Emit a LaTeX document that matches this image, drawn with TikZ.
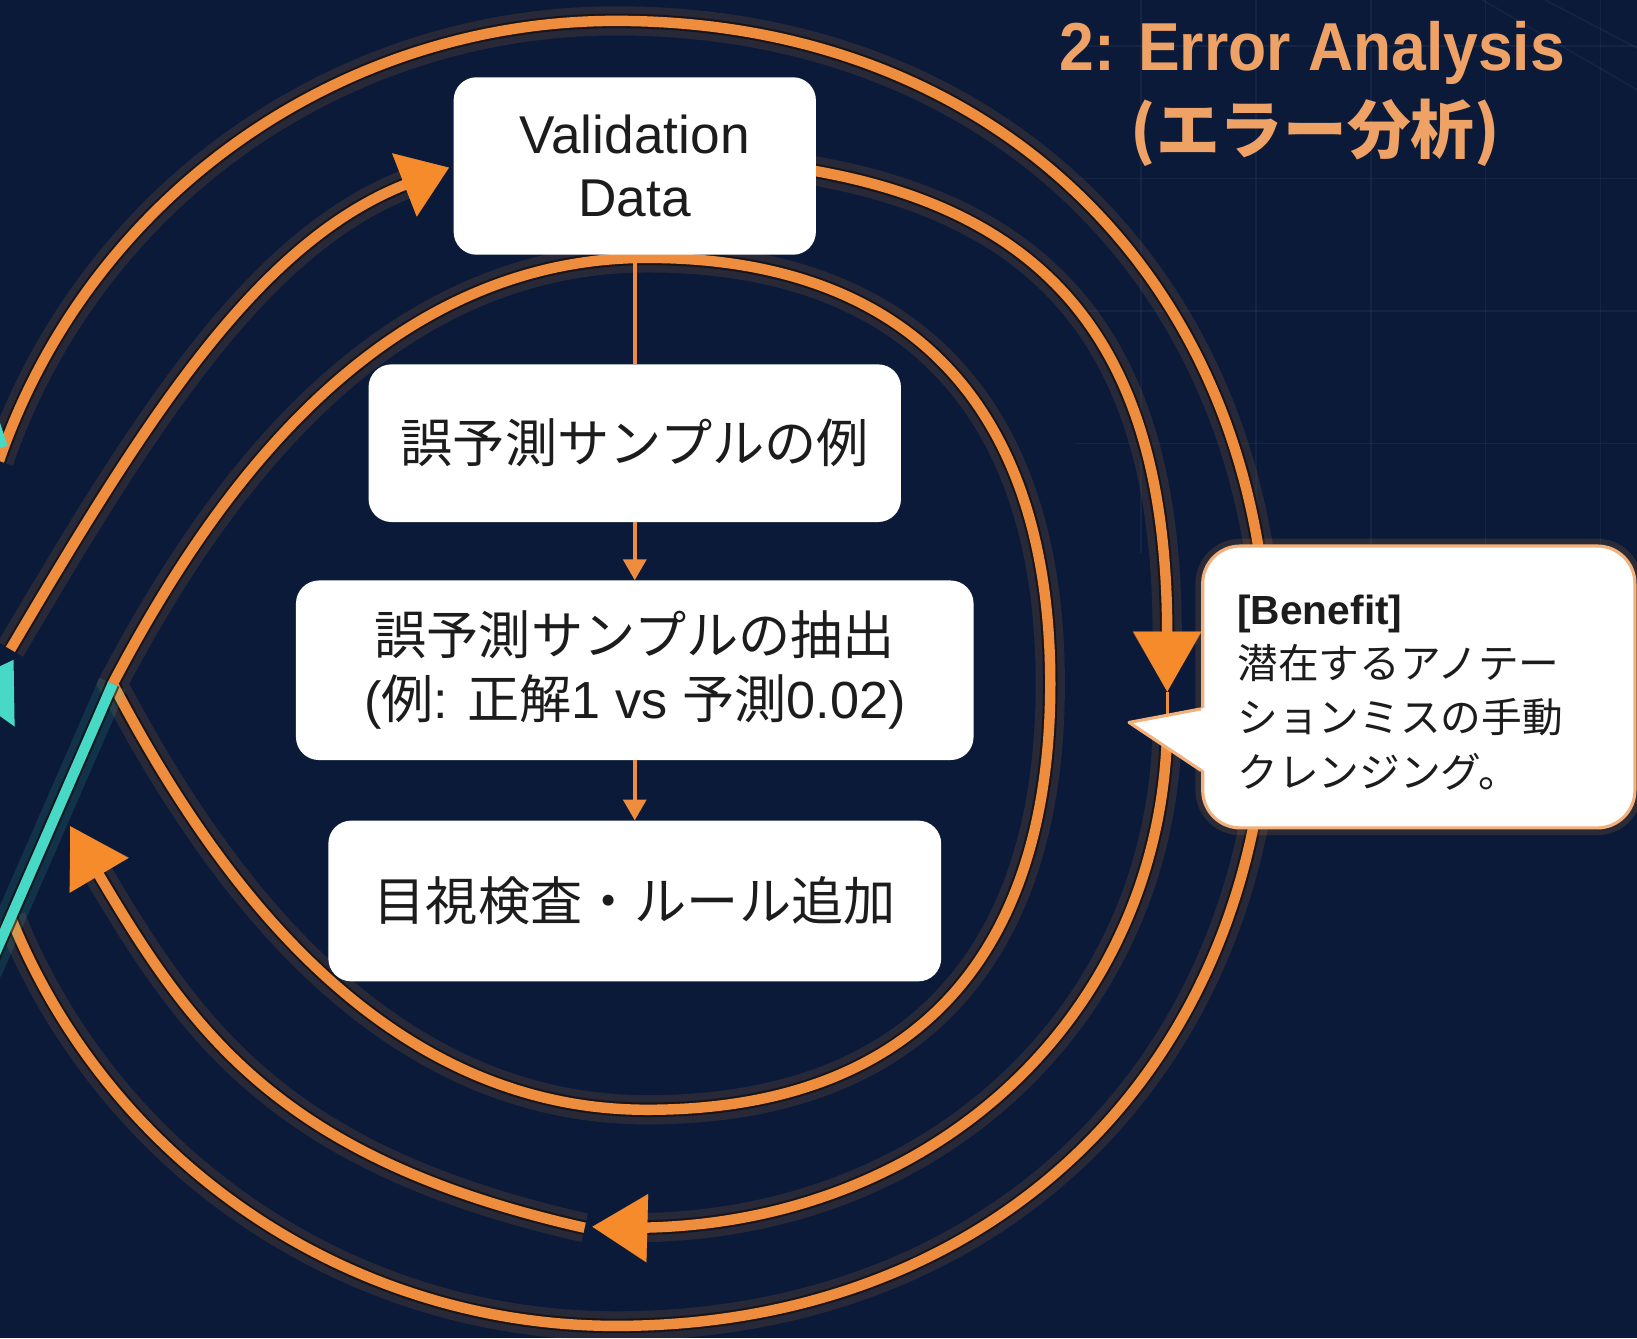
\documentclass[tikz,border=0pt]{standalone}
\usepackage{fontspec}
\setmainfont{Liberation Sans}
\newfontfamily\jp{Noto Sans CJK JP}
\usetikzlibrary{arrows.meta,calc}

\definecolor{bg}{HTML}{0A1A38}
\definecolor{loopor}{HTML}{EE8D3D}
\definecolor{tipor}{HTML}{F68B2C}
\definecolor{tealline}{HTML}{48D9C6}
\definecolor{titleor}{HTML}{EFA266}
\definecolor{ink}{HTML}{1C1C1C}
\definecolor{haloedge}{HTML}{100804}
\definecolor{gridc}{HTML}{6F8FC8}
\definecolor{coborder}{HTML}{F2B07A}

% a glowing stroke: wide faint halo, dark rim, then the line itself
\newcommand\glowline[3]{%
  \draw[draw=#1, line width=28pt, opacity=0.13, #2] #3;
  \draw[draw=haloedge, line width=14pt, opacity=0.6, #2] #3;
  \draw[draw=#1, line width=10pt, #2] #3;}

\tikzset{
  bigtip/.style={-{Triangle[length=#1pt, width=62pt, color=tipor]}},
  card/.style={fill=white, rounded corners=22pt, text=ink, align=center, inner sep=0pt},
  flow/.style={draw=loopor, line width=3.5pt},
  flowtip/.style={flow, -{Triangle[length=20pt, width=22pt]}},
  cotext/.style={anchor=base west, inner sep=0pt, text=ink, font=\fontsize{39}{52}\selectfont},
  gridmaj/.style={draw=gridc, line width=1.5pt, opacity=0.09},
  titletext/.style={anchor=base, inner sep=0pt, text=titleor},
}

\begin{document}
\begin{tikzpicture}[x=1pt, y=-1pt]
\useasboundingbox (0,0) rectangle (1568,1282);
\fill[bg] (0,0) rectangle (1568,1282);

\begin{scope}
  \clip (0,0) rectangle (1568,1282);

  % faint blueprint grid in the upper right
  \begin{scope}
    \clip (1030,0) rectangle (1568,530);
    \foreach \gx in {1093,1203,1313,1423,1533} \draw[gridmaj] (\gx,0) -- (\gx,530);
    \foreach \gy in {44,171,298,425} \draw[gridmaj] (1030,\gy) -- (1568,\gy);
  \end{scope}
  \draw[gridmaj] (1420,0) -- (1568,86);
  \draw[gridmaj] (1480,0) -- (1568,46);

  % key points of the three loops
  \coordinate (oC) at (590,645);
  \coordinate (mT) at (605,150);
  \coordinate (mR) at (1118,663);
  \coordinate (mB) at (605,1176);
  \coordinate (X)  at (108,655);

  % outer loop
  \glowline{loopor}{}{($(oC)+(199:625)$) arc[start angle=199, end angle=270, radius=625]
     .. controls (959,20) and (1215,276) .. (1215,645)
     .. controls (1215,1014) and (959,1270) .. (590,1270)
     arc[start angle=90, end angle=158, radius=625]}

  % inner loop, pointed where it meets the teal strand
  \glowline{loopor}{line join=miter}{(620,247) .. controls (871,247) and (1006,390) .. (1006,655)
     .. controls (1006,920) and (871,1063) .. (620,1063)
     .. controls (360,1063) and (201,832) .. (X)
     .. controls (201,478) and (360,247) .. (620,247)}

  % teal strand of the left lobe
  \draw[tealline, line width=7pt] (-6,398) -- (4,428);
  \fill[tealline] (13,632) -- (-40,657) -- (14,696) -- cycle;
  \glowline{tealline}{}{(X) -- (-12,930)}

  % middle loop, in four arrowed pieces
  \glowline{loopor}{bigtip=46, shorten >=4pt}{(10,622) .. controls (137,407) and (244,233) .. (434,159)}
  \glowline{loopor}{bigtip=58}{(mT) .. controls (974,150) and (1118,294) .. (mR)}
  \draw[loopor, line width=3pt] (mR) -- ($(mR)+(0,30)$);
  \glowline{loopor}{bigtip=53, shorten <=26pt}{(mR) .. controls (1118,961) and (903,1176) .. (mB) -- (567,1175)}
  \glowline{loopor}{bigtip=55}{(560,1176) .. controls (268,1110) and (184,989) .. (67,791)}
\end{scope}

% process cards
\node[card, minimum width=347pt, minimum height=170pt, font=\fontsize{51}{60}\selectfont] (vd) at (608,159) {Validation\\Data};
\node[card, minimum width=510pt, minimum height=151pt, font=\jp\fontsize{50}{60}\selectfont] (b2) at (608,424.5) {誤予測サンプルの例};
\node[card, minimum width=649pt, minimum height=172pt, font=\fontsize{50}{61}\selectfont] (b3) at (608,642) {{\jp 誤予測サンプルの抽出}\\({\jp 例}: {\jp 正解}1 vs {\jp 予測}0.02)};
\node[card, minimum width=587pt, minimum height=154pt, font=\jp\fontsize{50}{60}\selectfont] (b4) at (608,863) {目視検査・ルール追加};

\draw[flow] (vd.south) -- (b2.north);
\draw[flowtip] (b2.south) -- (b3.north);
\draw[flowtip] (b3.south) -- (b4.north);

% benefit callout
\node[fill=white, draw=coborder, line width=3pt, rounded corners=36pt,
      minimum width=414pt, minimum height=270pt,
      preaction={draw=loopor, line width=14pt, opacity=0.15}] (ben) at (1359,658) {};
\coordinate (ptip) at ($(ben.west)+(-69,34)$);
\fill[white] ($(ben.west)+(4,20)$) -- (ptip) -- ($(ben.west)+(4,81)$) -- cycle;
\draw[coborder, line width=3pt, line join=round] ($(ben.west)+(0,21)$) -- (ptip) -- ($(ben.west)+(0,80)$);
\node[cotext] (cl1) at (1185,598) {\bfseries [Benefit]};
\node[cotext] (cl2) at (1185,650) {\jp 潜在するアノテー};
\node[cotext] (cl3) at (1185,702) {\jp ションミスの手動};
\node[cotext] (cl4) at (1185,754) {\jp クレンジング。};

% heading
\node[titletext, font=\bfseries\fontsize{65}{70}\selectfont] (ttl1) at (1257,68) {\scalebox{0.92}[1]{2: Error Analysis}};
\node[titletext, font=\jp\bfseries\fontsize{61}{70}\selectfont] (ttl2) at (1260,147) {(エラー分析)};
\end{tikzpicture}
\end{document}
